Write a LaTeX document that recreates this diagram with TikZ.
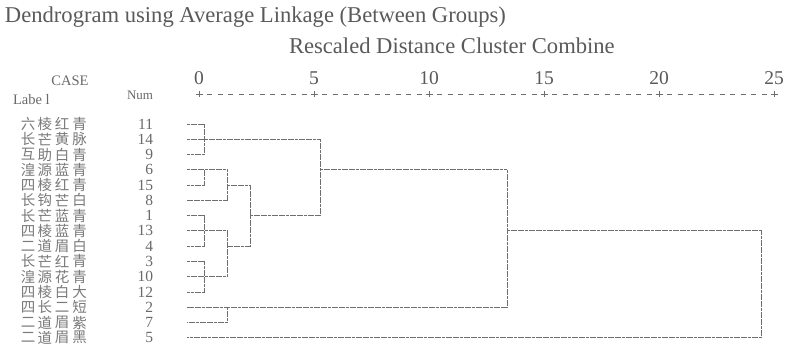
\documentclass[tikz,border=0pt]{standalone}
\usepackage{fontspec}
\setmainfont{Liberation Serif}
\newfontfamily\cjk{Noto Sans CJK SC}
\usetikzlibrary{calc}
\definecolor{txtc}{HTML}{5A5A5A}
\definecolor{lblc}{HTML}{6A6A6A}
\definecolor{cjkc}{HTML}{7A7A7A}
\definecolor{linec}{HTML}{6E6E6E}
\begin{document}
\begin{tikzpicture}[x=1pt,y=-1pt,
  every node/.style={inner sep=0pt,outer sep=0pt,text=txtc},
  bigtext/.style={font=\fontsize{22.6}{26}\selectfont,anchor=base west},
  ticktext/.style={font=\fontsize{19.5}{21}\selectfont,anchor=base},
  headtext/.style={font=\fontsize{14.5}{16}\selectfont,text=lblc},
  numtext/.style={font=\fontsize{15.5}{15.5}\selectfont,text=lblc,anchor=east},
  cjktext/.style={font=\cjk\fontsize{14.5}{14.5}\selectfont,text=cjkc},
  dend/.style={draw=linec,line width=0.8pt,dash pattern=on 3pt off 0.6pt},
  axisline/.style={draw=linec,line width=0.7pt,dash pattern=on 5pt off 5.5pt,dash phase=-3pt},
  plusmark/.style={draw=linec,line width=0.7pt}]
\useasboundingbox (0,0) rectangle (793,350);
\fill[white] (0,0) rectangle (793,350);

% headings
\node[bigtext] (title) at (5,23) {Dendrogram using Average Linkage (Between Groups)};
\node[bigtext] (resc) at (289,54) {Rescaled Distance Cluster Combine};
\node[headtext,anchor=base] (case) at (70,86) {CASE};
\node[headtext,anchor=base west] (label) at (13,105) {Labe l};
\node[headtext,anchor=base east,font=\fontsize{13}{15}\selectfont] (numh) at (153,100) {Num};

% axis
\foreach \k/\v in {0/0,1/5,2/10,3/15,4/20,5/25}{
  \coordinate (tk\k) at ({199+115*\k},94);
  \node[ticktext] (tl\k) at ({199+115*\k},85) {\v};
  \draw[plusmark] ($(tk\k)+(-3.5,0)$) -- ($(tk\k)+(3.5,0)$);
  \draw[plusmark] ($(tk\k)+(0,-3)$) -- ($(tk\k)+(0,3)$);
}
\foreach \k [evaluate=\k as \n using int(\k+1)] in {0,...,4}{
  \draw[axisline] ($(tk\k)+(5,0)$) -- ($(tk\n)+(-4,0)$);
}

% rows
\foreach \i/\a/\b/\c/\d/\n in {1/六/棱/红/青/11, 2/长/芒/黄/脉/14, 3/互/助/白/青/9,
  4/湟/源/蓝/青/6, 5/四/棱/红/青/15, 6/长/钩/芒/白/8, 7/长/芒/蓝/青/1,
  8/四/棱/蓝/青/13, 9/二/道/眉/白/4, 10/长/芒/红/青/3, 11/湟/源/花/青/10,
  12/四/棱/白/大/12, 13/四/长/二/短/2, 14/二/道/眉/紫/7, 15/二/道/眉/黑/5}{
  \pgfmathsetmacro\yy{124+15.27*(\i-1)}
  \node[cjktext] (la\i) at (28,\yy) {\a};
  \node[cjktext] (lb\i) at (45,\yy) {\b};
  \node[cjktext] (lc\i) at (62,\yy) {\c};
  \node[cjktext] (ld\i) at (79.5,\yy) {\d};
  \node[numtext] (n\i) at (153,\yy) {\n};
  \coordinate (s\i) at (187,\yy);
}

% merge levels
\coordinate (xa) at (204,0);
\coordinate (xb) at (227,0);
\coordinate (xc) at (250,0);
\coordinate (xd) at (320,0);
\coordinate (xe) at (507,0);
\coordinate (xf) at (761,0);

% dendrogram
\draw[dend] (s1) -- (s1 -| xa) -- (s3 -| xa) -- (s3);
\draw[dend] (s2) -- (s2 -| xd);
\draw[dend] (s4) -- (s4 -| xb) -- (s6 -| xb) -- (s6);
\draw[dend] (s4 -| xa) -- (s5 -| xa) -- (s5);
\draw[dend] (s5 -| xb) -- (s5 -| xc) -- (s9 -| xc) -- (s9 -| xb);
\draw[dend] (s7) -- (s7 -| xa) -- (s9 -| xa) -- (s9);
\draw[dend] (s8) -- (s8 -| xb);
\draw[dend] (s10) -- (s10 -| xa) -- (s12 -| xa) -- (s12);
\draw[dend] (s11) -- (s11 -| xb);
\draw[dend] (s8 -| xb) -- (s11 -| xb);
\draw[dend] (s7 -| xc) -- (s7 -| xd);
\draw[dend] (s2 -| xd) -- (s7 -| xd);
\draw[dend] (s4 -| xd) -- (s4 -| xe) -- (s13 -| xe) -- (s13);
\draw[dend] (s13 -| xb) -- (s14 -| xb) -- (s14);
\draw[dend] (s8 -| xe) -- (s8 -| xf) -- (s15 -| xf) -- (s15);
\end{tikzpicture}
\end{document}
